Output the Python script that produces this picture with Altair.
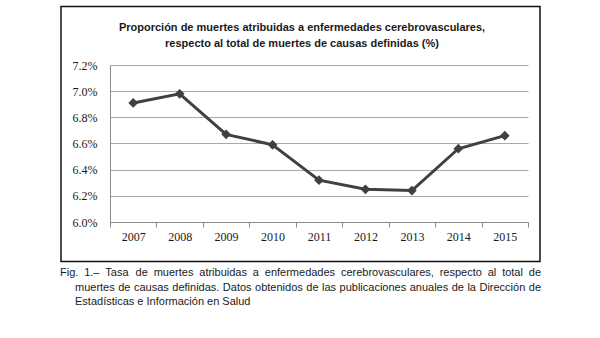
import altair as alt
import pandas as pd

years = ["2007", "2008", "2009", "2010", "2011", "2012", "2013", "2014", "2015"]
values = [0.0691, 0.0698, 0.0667, 0.0659, 0.0632, 0.0625, 0.0624, 0.0656, 0.0666]
y_ticks = [0.060, 0.062, 0.064, 0.066, 0.068, 0.070, 0.072]

title_lines = [
    "Proporción de muertes atribuidas a enfermedades cerebrovasculares,",
    "respecto al total de muertes de causas definidas (%)",
]
caption_lines = [
    "Fig. 1.– Tasa de muertes atribuidas a enfermedades cerebrovasculares, respecto al total de",
    "muertes de causas definidas. Datos obtenidos de las publicaciones anuales de la Dirección de",
    "Estadísticas e Información en Salud",
]

# Arial / Liberation Sans advance widths (per 1000 em) used to justify caption lines
ARIAL = {
    " ": 278, ".": 278, ",": 278, "–": 556, "1": 556,
    "a": 556, "b": 556, "c": 500, "d": 556, "e": 556, "f": 278, "g": 556, "h": 556,
    "i": 222, "j": 222, "k": 500, "l": 222, "m": 833, "n": 556, "o": 556, "p": 556,
    "q": 556, "r": 333, "s": 500, "t": 278, "u": 556, "v": 500, "w": 722, "x": 500,
    "y": 500, "z": 500, "ó": 556, "í": 278,
    "D": 722, "E": 667, "F": 611, "I": 278, "S": 667, "T": 611,
}
CAP_SIZE = 11


def text_width(s):
    return sum(ARIAL.get(ch, 556) for ch in s) * CAP_SIZE / 1000.0


# caption layout (relative to plot origin at 110, 65)
line_starts = [-50, -35, -35]
line_right = 431
line_baselines = [211, 225.5, 240]
rows = []
for i, ln in enumerate(caption_lines):
    if i < len(caption_lines) - 1:
        words = ln.split(" ")
        total = sum(text_width(w) for w in words)
        gap = (line_right - line_starts[i] - total) / (len(words) - 1)
        x = line_starts[i]
        for w in words:
            rows.append({"t": w, "x": x, "y": line_baselines[i]})
            x += text_width(w) + gap
    else:
        rows.append({"t": ln, "x": line_starts[i], "y": line_baselines[i]})
c_df = pd.DataFrame(rows)

df = pd.DataFrame({"year": years, "value": values})

x_enc = alt.X(
    "year:O",
    scale=alt.Scale(paddingInner=0, paddingOuter=0),
    axis=alt.Axis(
        title=None,
        labelAngle=0,
        labelFont="Liberation Serif",
        labelFontSize=12,
        labelColor="#1a1a1a",
        tickBand="extent",
        tickSize=5,
        tickColor="#8c8c8c",
        domainColor="#8c8c8c",
        labelPadding=4,
        grid=False,
    ),
)
y_enc = alt.Y(
    "value:Q",
    scale=alt.Scale(domain=[0.060, 0.072], nice=False, zero=False),
    axis=alt.Axis(
        title=None,
        values=y_ticks,
        format=".1%",
        labelFont="Liberation Serif",
        labelFontSize=12,
        labelColor="#1a1a1a",
        labelOverlap=False,
        labelBound=False,
        ticks=False,
        labelPadding=13,
        domainColor="#8c8c8c",
        gridColor="#a8a8a8",
        gridWidth=1,
    ),
)

base = alt.Chart(df).encode(x=x_enc, y=y_enc)
line = base.mark_line(color="#404040", strokeWidth=3)
pts = base.mark_point(shape="diamond", filled=True, size=95, color="#404040", opacity=1)

box_df = pd.DataFrame({"k": [0]})
box = alt.Chart(box_df).mark_rect(fill=None, stroke="#111111", strokeWidth=1.5).encode(
    x=alt.value(-49), x2=alt.value(430), y=alt.value(-58.5), y2=alt.value(196.5)
)

t_df = pd.DataFrame({"t": title_lines, "y": [-34, -18]})
title = alt.Chart(t_df).mark_text(
    font="Liberation Sans", fontSize=11, fontWeight="bold", color="#1a1a1a",
    align="center", baseline="alphabetic",
).encode(text="t:N", x=alt.value(192), y=alt.Y("y:Q", scale=None))

caption = alt.Chart(c_df).mark_text(
    font="Liberation Sans", fontSize=CAP_SIZE, color="#1a1a1a",
    align="left", baseline="alphabetic",
).encode(text="t:N", x=alt.X("x:Q", scale=None), y=alt.Y("y:Q", scale=None))

chart = alt.layer(box, line, pts, title, caption).properties(
    width=418,
    height=157,
    padding={"left": 110, "top": 65, "right": 72, "bottom": 116},
    autosize=alt.AutoSizeParams(type="none"),
    background="white",
).configure_view(stroke=None).configure_axis(labelOverlap=False)

chart.save("out.html", embed_options={"renderer": "svg", "actions": False})
